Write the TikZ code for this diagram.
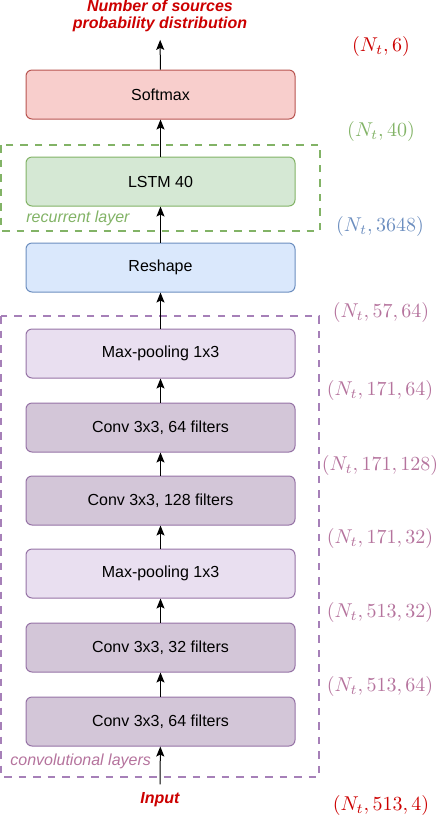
\documentclass[tikz,border=0pt]{standalone}
\usepackage{amsmath,amssymb}
\usepackage{xcolor}
\usepackage{fontspec}
\setsansfont{Liberation Sans}
\usetikzlibrary{arrows.meta}
\definecolor{softfill}{HTML}{F8CECC}
\definecolor{softline}{HTML}{B85450}
\definecolor{lstmfill}{HTML}{D5E8D4}
\definecolor{lstmline}{HTML}{82B366}
\definecolor{reshfill}{HTML}{DAE8FC}
\definecolor{reshline}{HTML}{6C8EBF}
\definecolor{poolfill}{HTML}{E9DFF0}
\definecolor{convfill}{HTML}{D3C6D8}
\definecolor{purpline}{HTML}{9673A6}
\definecolor{convgroup}{HTML}{A680B8}
\definecolor{purptext}{HTML}{B5739D}
\definecolor{outred}{HTML}{CC0000}

\begin{document}
\begin{tikzpicture}[x=0.5pt, y=-0.5pt, font=\sffamily\fontsize{8}{9.5}\selectfont,
  layer/.style={draw, rounded corners=3pt, line width=0.5pt, minimum width=134.5pt, minimum height=24.5pt, inner sep=0pt},
  arr/.style={-{Stealth[length=5pt,width=4pt,inset=1pt]}, line width=0.5pt},
  dim/.style={font=\fontsize{10}{12}\selectfont},
  group/.style={dash pattern=on 3.75pt off 3.5pt, line width=1pt}]
\useasboundingbox (0,0) rectangle (440,816);
\draw[group, lstmline] (1,145) rectangle (320,231);
\draw[group, convgroup] (1,316) rectangle (319,777);
\node[layer, fill=softfill, draw=softline](softmax) at (160.5,94.5){Softmax};
\node[layer, fill=lstmfill, draw=lstmline](lstm) at (160.5,181.5){LSTM 40};
\node[layer, fill=reshfill, draw=reshline](reshape) at (160.5,267.5){Reshape};
\node[layer, fill=poolfill, draw=purpline](pooltwo) at (160.5,353.5){Max-pooling 1x3};
\node[layer, fill=convfill, draw=purpline](convfour) at (160.5,427.5){Conv 3x3, 64 filters};
\node[layer, fill=convfill, draw=purpline](convthree) at (160.5,500.5){Conv 3x3, 128 filters};
\node[layer, fill=poolfill, draw=purpline](poolone) at (160.5,573.5){Max-pooling 1x3};
\node[layer, fill=convfill, draw=purpline](convtwo) at (160.5,647.5){Conv 3x3, 32 filters};
\node[layer, fill=convfill, draw=purpline](convone) at (160.5,721.5){Conv 3x3, 64 filters};
\node[outred, font=\sffamily\bfseries\itshape\fontsize{8}{8.5}\selectfont, align=center, inner sep=4pt](output) at (160,15.5){Number of sources\\probability distribution};
\node[outred, font=\sffamily\bfseries\itshape\fontsize{8}{9.5}\selectfont, inner sep=4pt](input) at (160,800){Input};
\node[lstmline, font=\sffamily\itshape\fontsize{8}{9.5}\selectfont, anchor=west, inner sep=0pt](rnnlabel) at (26,218){recurrent layer};
\node[purptext, font=\sffamily\itshape\fontsize{8}{9.5}\selectfont, anchor=west, inner sep=0pt](cnnlabel) at (10,761){convolutional layers};
\draw[arr] (input) -- (convone);
\draw[arr] (convone) -- (convtwo);
\draw[arr] (convtwo) -- (poolone);
\draw[arr] (poolone) -- (convthree);
\draw[arr] (convthree) -- (convfour);
\draw[arr] (convfour) -- (pooltwo);
\draw[arr] (pooltwo) -- (reshape);
\draw[arr] (reshape) -- (lstm);
\draw[arr] (lstm) -- (softmax);
\draw[arr] (softmax) -- (output);
\node[dim, outred](dimsix) at (381,46){$(N_t, 6)$};
\node[dim, lstmline](dimforty) at (381,131){$(N_t, 40)$};
\node[dim, reshline](dimflat) at (380,226){$(N_t, 3648)$};
\node[dim, purptext](dimpooltwo) at (381,312){$(N_t, 57, 64)$};
\node[dim, purptext](dimconvfour) at (380,390){$(N_t, 171, 64)$};
\node[dim, purptext](dimconvthree) at (380,465){$(N_t, 171, 128)$};
\node[dim, purptext](dimpoolone) at (380,538){$(N_t, 171, 32)$};
\node[dim, purptext](dimconvtwo) at (380,612){$(N_t, 513, 32)$};
\node[dim, purptext](dimconvone) at (380,686){$(N_t, 513, 64)$};
\node[dim, outred](diminput) at (381,805){$(N_t, 513, 4)$};
\end{tikzpicture}
\end{document}
